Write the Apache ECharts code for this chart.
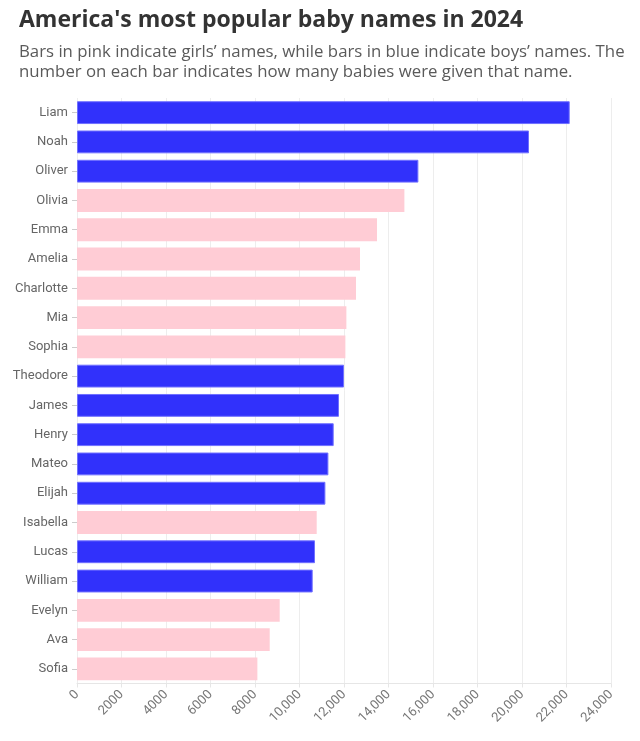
<!DOCTYPE html>
<html>
<head>
<meta charset="utf-8">
<script src="https://cdn.jsdelivr.net/npm/echarts@6/dist/echarts.min.js"></script>
<style>
html,body{margin:0;padding:0;background:#fff;}
#c{width:640px;height:741px;}
</style>
</head>
<body>
<div id="c"></div>
<script>
const names = ["Liam","Noah","Oliver","Olivia","Emma","Amelia","Charlotte","Mia","Sophia","Theodore","James","Henry","Mateo","Elijah","Isabella","Lucas","William","Evelyn","Ava","Sofia"];
const counts = [22144,20315,15343,14714,13483,12719,12539,12107,12062,12000,11775,11537,11299,11164,10773,10697,10593,9110,8661,8107];
const genders = ["boy","boy","boy","girl","girl","girl","girl","girl","girl","boy","boy","boy","boy","boy","girl","boy","boy","girl","girl","girl"];
const xTicks = [0,2000,4000,6000,8000,10000,12000,14000,16000,18000,20000,22000,24000];

const BLUE = "#3131fb";
const PINK = "#ffccd5";
const TFONT = "Open Sans";
const FONT = "Roboto";

const chart = echarts.init(document.getElementById('c'), null, {renderer:'canvas'});
chart.setOption({
  animation:false,
  backgroundColor:'#fff',
  title:[
    {text:"America's most popular baby names in 2024", left:14, top:4,
     textStyle:{fontFamily:TFONT, fontSize:23, fontWeight:'bold', color:'#333'}},
    {text:"Bars in pink indicate girls’ names, while bars in blue indicate boys’ names. The\nnumber on each bar indicates how many babies were given that name.",
     left:14, top:37,
     textStyle:{fontFamily:TFONT, fontSize:16.8, fontWeight:'normal', color:'#5a5a5a', lineHeight:20}}
  ],
  grid:{left:77, right:29, top:98, bottom:57.5, containLabel:false},
  xAxis:{
    type:'value', min:xTicks[0], max:xTicks[xTicks.length-1], interval:2000,
    axisLine:{show:true, lineStyle:{color:'#e6e6e6'}},
    axisTick:{show:true, length:4, lineStyle:{color:'#e6e6e6'}},
    splitLine:{show:true, lineStyle:{color:'#ededed'}},
    axisLabel:{rotate:45, color:'#777', fontFamily:FONT, fontSize:13, margin:9,
      formatter:v => v >= 10000 ? v.toLocaleString('en-US') : String(v)}
  },
  yAxis:{
    type:'category', data:names, inverse:true,
    axisLine:{show:false},
    axisTick:{show:true, length:5, alignWithLabel:true, lineStyle:{color:'#ccc'}},
    axisLabel:{color:'#666', fontFamily:FONT, fontSize:13, margin:9}
  },
  series:[{
    type:'bar',
    barCategoryGap:'22%',
    data:counts.map((v,i)=>({
      value:v,
      itemStyle: genders[i]==='boy'
        ? {color:BLUE, borderColor:'#7070ff', borderWidth:1}
        : {color:PINK}
    }))
  }]
});
</script>
</body>
</html>
